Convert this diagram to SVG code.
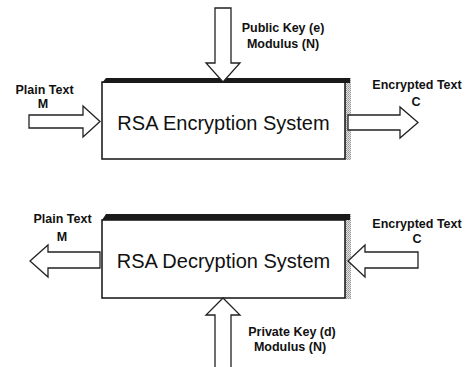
<svg xmlns="http://www.w3.org/2000/svg" width="470" height="367" viewBox="0 0 470 367">
<defs>
<pattern id="stipple" width="2" height="2" patternUnits="userSpaceOnUse">
<rect width="2" height="2" fill="#e0e0e0"/>
<rect x="0" y="0" width="1" height="1" fill="#999"/>
<rect x="1" y="1" width="1" height="1" fill="#aaa"/>
</pattern>
<style>
.box{fill:#fff;stroke:#111;stroke-width:1.5}
.band{fill:#1a1a1a}
.shade{fill:url(#stipple)}
.arrow{fill:#fff;stroke:#222;stroke-width:1.3;stroke-linejoin:miter}
.main{font-family:"Liberation Sans",Arial,sans-serif;font-size:20px;fill:#111;text-anchor:middle}
.lbl{font-family:"Liberation Sans",Arial,sans-serif;font-size:12.5px;font-weight:bold;fill:#111;text-anchor:middle}
</style>
</defs>
<rect width="470" height="367" fill="#fff"/>

<g id="enc-system">
<rect class="shade" x="345" y="78" width="6" height="82"/>
<rect class="box" x="102" y="82" width="243" height="77"/>
<polygon class="band" points="102,83 106,78 350,78 350,83"/>
<text class="main" x="223.5" y="130">RSA Encryption System</text>
</g>

<g id="dec-system">
<rect class="shade" x="345" y="214" width="6" height="85"/>
<rect class="box" x="102" y="220" width="243" height="78"/>
<polygon class="band" points="102,220 106,214 350,214 350,220"/>
<text class="main" x="223.5" y="268">RSA Decryption System</text>
</g>

<g id="connectors">
<polygon id="enc-in-plain" class="arrow" points="29,115 83,115 83,106 100,121.5 83,137 83,128 29,128"/>
<polygon id="enc-out-cipher" class="arrow" points="348,115 400,115 400,107 418,122.5 400,138 400,130 348,130"/>
<polygon id="enc-in-key" class="arrow" points="215,8 231,8 231,63 240,63 223,82 206,63 215,63"/>
<polygon id="dec-out-plain" class="arrow" points="100,252 48,252 48,245 30,261 48,277 48,268 100,268"/>
<polygon id="dec-in-cipher" class="arrow" points="418,252 365,252 365,245 348,261 365,277 365,268 418,268"/>
<polygon id="dec-in-key" class="arrow" points="223,298 240,315 231,315 231,372 215,372 215,315 206,315"/>
</g>

<g id="labels">
<text class="lbl" x="44.5" y="94">Plain Text</text>
<text class="lbl" x="43" y="108">M</text>
<text class="lbl" x="283" y="32">Public Key (e)</text>
<text class="lbl" x="283" y="48">Modulus (N)</text>
<text class="lbl" x="417" y="89">Encrypted Text</text>
<text class="lbl" x="416" y="106">C</text>
<text class="lbl" x="62.5" y="223">Plain Text</text>
<text class="lbl" x="62" y="241">M</text>
<text class="lbl" x="417" y="228">Encrypted Text</text>
<text class="lbl" x="417" y="243">C</text>
<text class="lbl" x="292" y="336">Private Key (d)</text>
<text class="lbl" x="290" y="351">Modulus (N)</text>
</g>
</svg>
